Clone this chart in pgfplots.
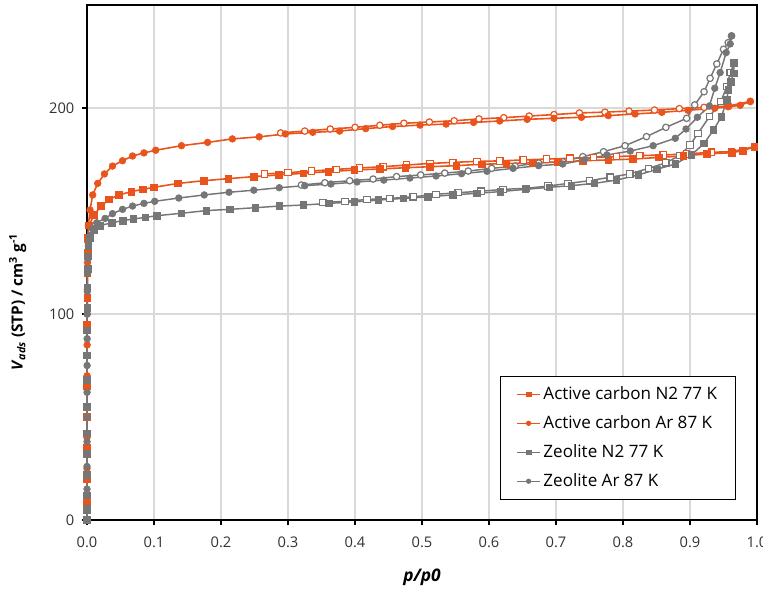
\documentclass[border=0pt]{standalone}
\usepackage{fontspec}
\setmainfont{Open Sans}
\usepackage{pgfplots}
\pgfplotsset{compat=1.18}
\definecolor{acorange}{RGB}{233,84,28}
\definecolor{zgray}{RGB}{118,118,118}
\definecolor{gridgray}{RGB}{217,217,217}
\definecolor{ticktext}{RGB}{50,50,50}

\pgfplotsset{
  adsAC/.style={acorange, line width=1.2pt, mark size=2.5pt, mark options={solid, fill=acorange, draw=acorange, line width=0.5pt}},
  desAC/.style={acorange, line width=1.2pt, mark size=2.4pt, mark options={solid, fill=white, draw=acorange, line width=0.9pt}, forget plot},
  adsZ/.style={zgray, line width=1.1pt, mark size=2.5pt, mark options={solid, fill=zgray, draw=zgray, line width=0.5pt}},
  desZ/.style={zgray, line width=1.1pt, mark size=2.4pt, mark options={solid, fill=white, draw=zgray, line width=0.9pt}, forget plot},
}

\begin{document}
\begin{tikzpicture}
\useasboundingbox (-65.25pt,-51.75pt) rectangle (507pt,390pt);
\begin{axis}[
  scale only axis, width=502.5pt, height=386.25pt,
  xmin=0, xmax=1, ymin=0, ymax=250,
  xtick={0,0.1,0.2,0.3,0.4,0.5,0.6,0.7,0.8,0.9,1.0},
  ytick={0,100,200},
  /pgf/number format/assume math mode=true,
  ticklabel style={font=\fontsize{11}{13}\selectfont, text=ticktext},
  xticklabel style={yshift=-5pt, /pgf/number format/.cd, fixed, fixed zerofill, precision=1},
  yticklabel style={xshift=-2pt},
  tick align=outside, xtick pos=bottom, ytick pos=left,
  major tick length=4pt,
  tick style={black, line width=0.8pt},
  grid=major, major grid style={gridgray, line width=0.8pt},
  axis line style={black, line width=1pt},
  clip=false,
  xlabel={\textbf{\textit{p/p0}}},
  ylabel={\textbf{\textit{V}\textsubscript{\textit{ads}} (STP) / cm\textsuperscript{3} g\textsuperscript{-1}}},
  every axis x label/.style={at={(rel axis cs:0.5,0)}, yshift=-43pt, anchor=center, font=\fontsize{13}{15}\selectfont, text=black},
  every axis y label/.style={at={(rel axis cs:0,0.423)}, xshift=-52pt, rotate=90, anchor=center, font=\fontsize{11.5}{14}\selectfont, text=black},
  legend style={at={(rel axis cs:0.969,0.039)}, anchor=south east, draw=black, line width=0.8pt,
    font=\fontsize{12.8}{15}\selectfont, row sep=6.5pt, inner xsep=12pt, inner ysep=6pt},
  legend cell align=left,
  legend image code/.code={\draw[mark repeat=2,mark phase=2,#1,mark size=1.7pt] plot coordinates {(0cm,0cm) (0.3cm,0cm) (0.6cm,0cm)};},
]
% desorption branches (open markers)
\addplot[desAC, mark=square*] coordinates {
(0.996,181.2) (0.962,178.8) (0.932,178.5) (0.895,177.7) (0.86,177.2) (0.825,176.9) (0.79,176.4) (0.756,176.0) (0.721,175.6) (0.686,175.2) (0.651,174.8) (0.616,174.3) (0.582,174.1) (0.546,173.6) (0.512,173.1) (0.477,172.3) (0.442,171.5) (0.407,170.9) (0.372,170.2) (0.335,169.4) (0.3,168.6) (0.265,168.0)
};
\addplot[desAC, mark=*] coordinates {
(0.99,203.2) (0.958,201.0) (0.921,200.3) (0.884,199.7) (0.847,199.0) (0.809,198.5) (0.773,198.0) (0.735,197.6) (0.697,196.8) (0.66,196.1) (0.622,195.3) (0.585,194.7) (0.548,193.8) (0.511,193.2) (0.473,192.6) (0.437,191.6) (0.4,190.6) (0.363,189.8) (0.325,188.8) (0.289,187.9)
};
\addplot[desZ, mark=square*] coordinates {
(0.966,221.7) (0.96,217.2) (0.955,210.4) (0.946,203.1) (0.929,195.8) (0.912,187.7) (0.9,182.0) (0.885,177.0) (0.864,173.4) (0.838,170.7) (0.81,168.0) (0.781,166.4) (0.75,164.7) (0.718,163.4) (0.688,162.1) (0.655,161.0) (0.621,160.5) (0.588,159.6) (0.554,158.9) (0.521,158.1) (0.487,156.9) (0.452,156.1) (0.418,155.6) (0.385,154.7) (0.352,154.1)
};
\addplot[desZ, mark=*] coordinates {
(0.962,235.0) (0.957,231.7) (0.95,228.5) (0.94,221.4) (0.93,214.4) (0.921,207.9) (0.907,201.5) (0.895,195.0) (0.864,190.6) (0.835,186.1) (0.803,181.7) (0.771,178.8) (0.74,176.4) (0.71,173.9) (0.674,173.3) (0.639,171.8) (0.604,170.7) (0.569,169.4) (0.534,168.4) (0.498,167.5) (0.462,166.7) (0.427,165.5) (0.392,164.7) (0.355,163.7) (0.32,162.6)
};
% adsorption branches (filled markers)
\addplot[adsAC, mark=square*] coordinates {
(0,0) (0.00001,8) (0.00002,20) (0.00003,35) (0.00005,50) (0.00008,65) (0.0001,80) (0.0002,95) (0.0004,108) (0.0007,120) (0.001,130) (0.0015,137) (0.003,143) (0.0104,148) (0.021,152.4) (0.033,155.7) (0.048,157.8) (0.066,159.4) (0.083,160.5) (0.1,161.5) (0.136,163.4) (0.174,164.7) (0.211,165.7) (0.249,166.7) (0.286,167.5) (0.323,168.3) (0.36,169.1) (0.399,169.9) (0.437,170.4) (0.475,171.0) (0.512,171.5) (0.551,172.0) (0.589,172.7) (0.626,173.0) (0.665,173.5) (0.703,173.8) (0.74,174.4) (0.778,174.8) (0.815,175.2) (0.853,176.0) (0.89,176.7) (0.925,177.7) (0.962,178.3) (0.979,179.3) (0.996,181.2)
};
\addlegendentry{Active carbon N2 77 K}
\addplot[adsAC, mark=*] coordinates {
(0,0) (0.00001,10) (0.00002,25) (0.00004,40) (0.00006,55) (0.0001,70) (0.0002,85) (0.0003,100) (0.0005,112) (0.0008,125) (0.0012,135) (0.002,143) (0.0045,150.5) (0.0085,157.8) (0.016,163.4) (0.026,168.0) (0.038,171.8) (0.053,174.4) (0.068,176.7) (0.085,178.2) (0.1025,179.5) (0.141,181.7) (0.18,183.3) (0.217,185.0) (0.257,186.0) (0.296,187.4) (0.337,188.2) (0.377,188.8) (0.416,190.0) (0.456,191.0) (0.497,191.7) (0.536,192.2) (0.577,193.0) (0.616,193.7) (0.657,194.5) (0.697,195.0) (0.738,195.5) (0.778,196.3) (0.818,197.1) (0.858,197.9) (0.897,198.9) (0.937,199.9) (0.957,200.6) (0.975,201.3) (0.99,203.2)
};
\addlegendentry{Active carbon Ar 87 K}
\addplot[adsZ, mark=square*] coordinates {
(0,0) (0.00001,5) (0.00002,12) (0.00003,22) (0.00004,32) (0.00005,42) (0.00007,55) (0.0001,68) (0.00015,80) (0.0002,92) (0.0003,103) (0.0005,113) (0.0008,122) (0.0012,128) (0.002,133) (0.004,137) (0.011,140.8) (0.019,142.9) (0.037,144.3) (0.053,145.3) (0.069,146.1) (0.087,146.9) (0.104,147.7) (0.141,148.9) (0.178,150.2) (0.213,150.8) (0.251,151.6) (0.287,152.4) (0.323,152.9) (0.361,153.7) (0.399,154.4) (0.435,155.3) (0.472,156.1) (0.509,156.9) (0.546,157.8) (0.582,158.6) (0.617,159.4) (0.654,160.5) (0.69,161.5) (0.723,162.3) (0.757,163.4) (0.79,165.0) (0.823,167.5) (0.85,170.2) (0.878,172.8) (0.902,177.2) (0.921,182.8) (0.935,189.3) (0.947,195.8) (0.955,203.9) (0.957,208.7) (0.961,212.8) (0.965,216.8) (0.966,221.7)
};
\addlegendentry{Zeolite N2 77 K}
\addplot[adsZ, mark=*] coordinates {
(0,0) (0.00001,6) (0.00002,15) (0.00003,26) (0.00005,38) (0.00007,50) (0.0001,62) (0.00015,75) (0.0002,88) (0.0003,100) (0.0005,111) (0.0008,120) (0.0012,127) (0.002,133) (0.004,138) (0.008,141.5) (0.0145,144.3) (0.027,146.4) (0.038,148.7) (0.053,150.8) (0.068,152.4) (0.085,153.7) (0.101,154.7) (0.137,156.3) (0.175,157.8) (0.212,159.1) (0.249,160.1) (0.287,161.3) (0.325,162.3) (0.364,163.1) (0.403,164.1) (0.443,165.0) (0.482,166.0) (0.521,167.0) (0.559,168.1) (0.597,169.3) (0.636,170.7) (0.674,172.0) (0.71,172.8) (0.742,174.8) (0.776,177.2) (0.811,179.1) (0.845,181.7) (0.878,185.3) (0.894,189.8) (0.911,195.5) (0.929,201.0) (0.937,209.6) (0.945,217.2) (0.954,226.9) (0.96,231.1) (0.962,235.0)
};
\addlegendentry{Zeolite Ar 87 K}
\draw[black, line width=1.6pt] (rel axis cs:0,0) -- (rel axis cs:1,0);
\end{axis}
\end{tikzpicture}
\end{document}
